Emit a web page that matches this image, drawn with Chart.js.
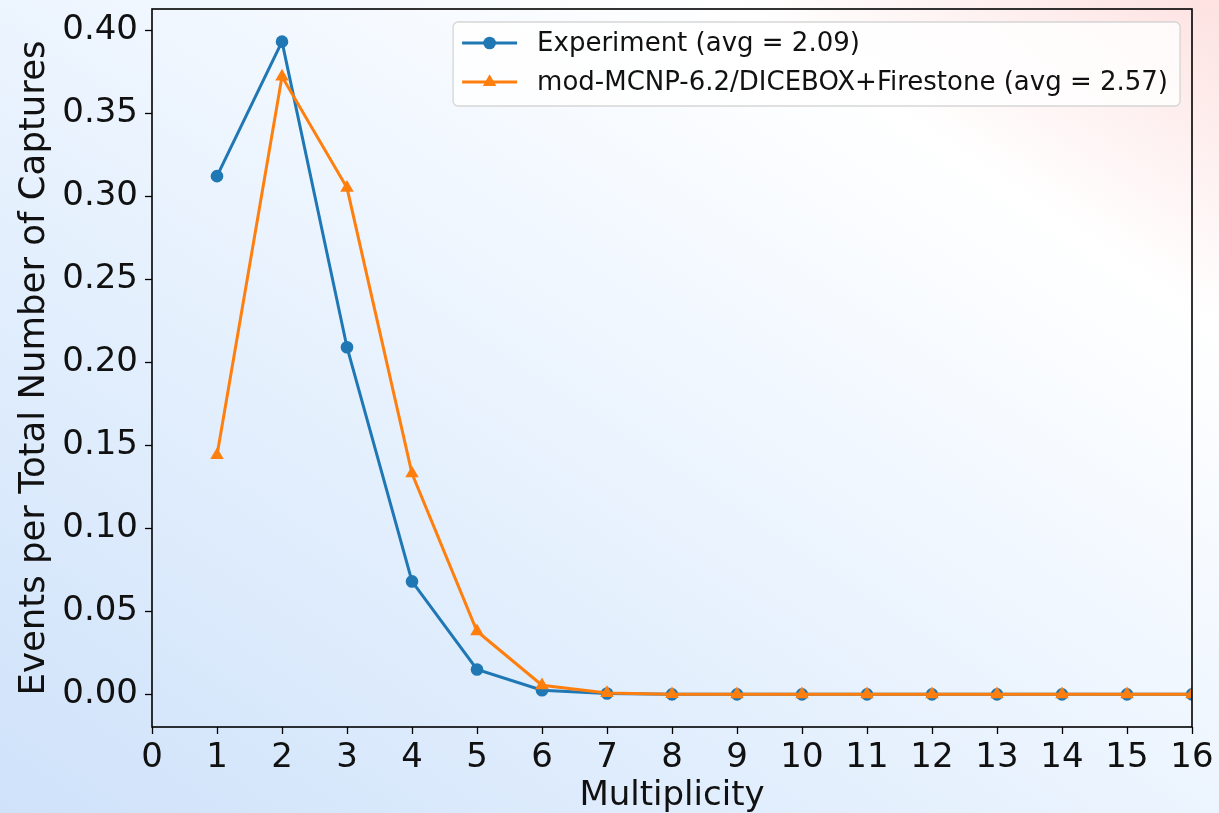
<!DOCTYPE html>
<html>
<head>
<meta charset="utf-8">
<script src="https://cdn.jsdelivr.net/npm/chart.js@4.4.1/dist/chart.umd.min.js"></script>
<style>
  html, body { margin: 0; padding: 0; }
  body {
    width: 1219px;
    height: 813px;
    overflow: hidden;
    background: linear-gradient(to top right, #cfe2fa 0%, #e3effd 35%, #f4f9ff 62%, #ffffff 80%, #fde2e1 100%);
  }
  #wrap { width: 1219px; height: 813px; }
</style>
</head>
<body>
<div id="wrap"><canvas id="multChart"></canvas></div>
<script>
// multiplicity distribution, experiment vs simulation
const multiplicity = [1, 2, 3, 4, 5, 6, 7, 8, 9, 10, 11, 12, 13, 14, 15, 16];
const experiment = [0.312, 0.393, 0.209, 0.068, 0.015, 0.0025, 0.0005, 0, 0, 0, 0, 0, 0, 0, 0, 0];
const simulation = [0.144, 0.372, 0.305, 0.133, 0.038, 0.0055, 0.0008, 0.0001, 0, 0, 0, 0, 0, 0, 0, 0];
const expLabel = "Experiment (avg = 2.09)";
const simLabel = "mod-MCNP-6.2/DICEBOX+Firestone (avg = 2.57)";
const xTicks = [0, 1, 2, 3, 4, 5, 6, 7, 8, 9, 10, 11, 12, 13, 14, 15, 16];
const yTicks = [0, 0.05, 0.10, 0.15, 0.20, 0.25, 0.30, 0.35, 0.40];

const blue = "#1f77b4";
const orange = "#ff7f0e";
const FONT = "'DejaVu Sans', sans-serif";

// y limits with a 5% margin like matplotlib autoscale
const yMax = Math.max(...experiment, ...simulation);
const yPad = yMax * 0.05;

const toPoints = (vals) => multiplicity.map((m, i) => ({ x: m, y: vals[i] }));

// black box round the plot area
const frame = {
  id: "frame",
  afterDatasetsDraw(chart) {
    const { ctx, chartArea: a } = chart;
    ctx.save();
    ctx.strokeStyle = "#000";
    ctx.lineWidth = 1.6;
    ctx.strokeRect(a.left, a.top, a.right - a.left, a.bottom - a.top);
    ctx.restore();
  }
};

// legend box in the upper right corner
const boxLegend = {
  id: "boxLegend",
  afterDraw(chart) {
    const { ctx, chartArea: a } = chart;
    const sets = chart.data.datasets;
    ctx.save();
    ctx.font = "26px " + FONT;
    const textW = Math.max(...sets.map(d => ctx.measureText(d.label).width));
    const right = a.right - 12;
    const top = a.top + 13;
    const w = 9 + 55 + 20 + textW + 12;
    const h = 84;
    const left = right - w;

    ctx.beginPath();
    ctx.roundRect(left, top, w, h, 5);
    ctx.fillStyle = "rgba(255,255,255,0.8)";
    ctx.fill();
    ctx.strokeStyle = "rgba(204,204,204,0.8)";
    ctx.lineWidth = 1.3;
    ctx.stroke();

    const rows = [sets.find(d => d.label === expLabel), sets.find(d => d.label === simLabel)];
    rows.forEach((d, i) => {
      const cy = top + 21 + i * 39;
      const x0 = left + 9, x1 = x0 + 55;
      ctx.strokeStyle = d.borderColor;
      ctx.lineWidth = d.borderWidth;
      ctx.beginPath();
      ctx.moveTo(x0, cy);
      ctx.lineTo(x1, cy);
      ctx.stroke();
      ctx.fillStyle = d.backgroundColor;
      ctx.strokeStyle = d.backgroundColor;
      Chart.helpers.drawPoint(ctx, {
        pointStyle: d.pointStyle,
        radius: d.pointRadius,
        borderWidth: 0,
        rotation: 0
      }, (x0 + x1) / 2, cy);
      ctx.fillStyle = "#111";
      ctx.textBaseline = "middle";
      ctx.textAlign = "left";
      ctx.fillText(d.label, x1 + 20, cy + 1);
    });
    ctx.restore();
  }
};

const commonDs = {
  borderWidth: 3,
  pointBorderWidth: 0,
  pointHoverRadius: 6,
  tension: 0,
  clip: 0
};

new Chart(document.getElementById("multChart"), {
  type: "line",
  data: {
    datasets: [
      {
        ...commonDs,
        label: expLabel,
        data: toPoints(experiment),
        borderColor: blue,
        backgroundColor: blue,
        pointStyle: "circle",
        pointRadius: 6.3,
        order: 1
      },
      {
        ...commonDs,
        label: simLabel,
        data: toPoints(simulation),
        borderColor: orange,
        backgroundColor: orange,
        pointStyle: "triangle",
        pointRadius: 7.8,
        order: 0
      }
    ]
  },
  options: {
    responsive: true,
    maintainAspectRatio: false,
    animation: false,
    layout: { padding: { top: 9, right: 27, left: 0, bottom: 0 } },
    plugins: {
      legend: { display: false },
      tooltip: { enabled: false }
    },
    scales: {
      x: {
        type: "linear",
        min: 0,
        max: 16,
        afterBuildTicks: (s) => { s.ticks = xTicks.map(v => ({ value: v })); },
        afterFit: (s) => { s.height = 86; s.paddingLeft = 0; s.paddingRight = 0; },
        grid: { drawOnChartArea: false, drawTicks: true, tickLength: 7, tickColor: "#000", tickWidth: 1.3 },
        border: { display: false },
        ticks: {
          color: "#111",
          padding: 4,
          maxRotation: 0,
          autoSkip: false,
          font: { family: FONT, size: 34 }
        },
        title: {
          display: true,
          text: "Multiplicity",
          color: "#111",
          padding: 0,
          font: { family: FONT, size: 34, lineHeight: 1 }
        }
      },
      y: {
        min: -yPad,
        max: yMax + yPad,
        afterBuildTicks: (s) => { s.ticks = yTicks.map(v => ({ value: v })); },
        afterFit: (s) => { s.width = 152; s.paddingTop = 0; s.paddingBottom = 0; },
        grid: { drawOnChartArea: false, drawTicks: true, tickLength: 7, tickColor: "#000", tickWidth: 1.3 },
        border: { display: false },
        ticks: {
          color: "#111",
          padding: 7,
          font: { family: FONT, size: 34 },
          callback: (v) => Number(v).toFixed(2)
        },
        title: {
          display: true,
          text: "Events per Total Number of Captures",
          color: "#111",
          padding: { top: 17, bottom: 0 },
          font: { family: FONT, size: 35.5, lineHeight: 1 }
        }
      }
    }
  },
  plugins: [frame, boxLegend]
});
</script>
</body>
</html>
